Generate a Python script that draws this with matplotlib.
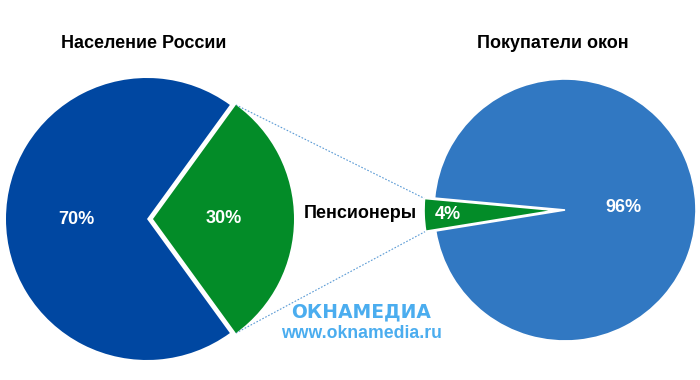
import matplotlib
matplotlib.use('Agg')
import matplotlib.pyplot as plt
import numpy as np

plt.rcParams['font.family'] = ['Liberation Sans', 'DejaVu Sans']

titles = ['Население России', 'Покупатели окон']
left_values = [70, 30]          # остальные, пенсионеры
right_values = [4, 96]          # пенсионеры, остальные
middle_label = 'Пенсионеры'
brand = 'ОКНАМЕДИА'
site = 'www.oknamedia.ru'

blue_dark = '#0047A1'
blue_light = '#3178C2'
green = '#038C28'
wm_color = '#4BADEF'
line_color = '#5B9BD5'

fig = plt.figure(figsize=(7, 3.8), dpi=100)
ax = fig.add_axes([0, 0, 1, 1])

txt = dict(color='white', fontsize=13, fontweight='bold')

wl, _, al = ax.pie(left_values, center=(147, 161), radius=141, startangle=54,
                   colors=[blue_dark, green], explode=[0, 6],
                   autopct='%.0f%%', pctdistance=0.5, textprops=txt, frame=True)

wr, _, ar = ax.pie(right_values, center=(565, 170), radius=131, startangle=174.8,
                   colors=[green, blue_light], explode=[10, 0],
                   autopct='%.0f%%', pctdistance=0.45, textprops=txt, frame=True,
                   wedgeprops=dict(edgecolor='white', linewidth=1.2))

# move small-slice label outward
g = wr[0]
tm = np.deg2rad(0.5 * (g.theta1 + g.theta2))
ar[0].set_position((g.center[0] + 0.82 * g.r * np.cos(tm),
                    g.center[1] + 0.82 * g.r * np.sin(tm)))

# connector lines between the green slices
gl = wl[1]
def corner(w, th):
    t = np.deg2rad(th)
    return (w.center[0] + w.r * np.cos(t), w.center[1] + w.r * np.sin(t))

p1 = corner(gl, gl.theta2); q1 = corner(g, g.theta1)
p2 = corner(gl, gl.theta1); q2 = corner(g, g.theta2)
ax.plot([p1[0], q1[0]], [p1[1], q1[1]], ls=(0, (1.5, 1.5)), lw=0.8, color=line_color, zorder=0)
ax.plot([p2[0], q2[0]], [p2[1], q2[1]], ls=(0, (1.5, 1.5)), lw=0.8, color=line_color, zorder=0)

ax.text(144, 336, titles[0], ha='center', va='center', fontsize=13, fontweight='bold')
ax.text(553, 337, titles[1], ha='center', va='center', fontsize=13, fontweight='bold')
ax.text(360, 166, middle_label, ha='center', va='center', fontsize=13, fontweight='bold')

ax.text(361, 68, brand, ha='center', va='center', fontsize=13.5, fontweight='bold',
        color=wm_color, family='DejaVu Sans')
ax.text(361, 46, site, ha='center', va='center', fontsize=12.7, fontweight='bold', color=wm_color)

ax.set_xlim(0, 700)
ax.set_ylim(0, 380)
ax.set_axis_off()

fig.savefig('out.png', dpi=100)
